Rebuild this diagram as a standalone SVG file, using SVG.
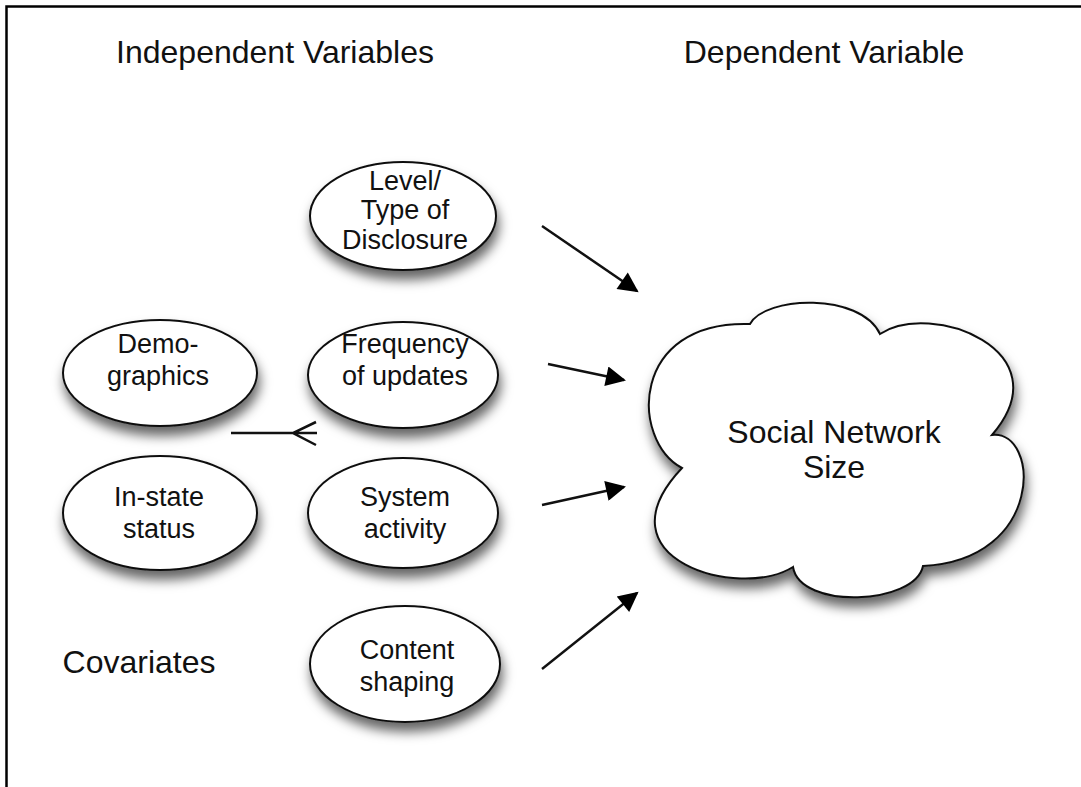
<svg xmlns="http://www.w3.org/2000/svg" width="1081" height="787" viewBox="0 0 1081 787">
  <defs>
    <filter id="shadow" x="-30%" y="-30%" width="160%" height="180%">
      <feDropShadow dx="2" dy="9" stdDeviation="6" flood-color="#000" flood-opacity="0.6"/>
    </filter>
    <marker id="arrow" viewBox="0 0 10 10" refX="9" refY="5" markerWidth="9" markerHeight="8" markerUnits="strokeWidth" orient="auto">
      <path d="M0,0 L10,5 L0,10 z" fill="#000"/>
    </marker>
  </defs>
  <style>
    text { font-family: "Liberation Sans", Arial, sans-serif; fill: #111; text-anchor: middle; }
    .title { font-size: 32px; }
    .label { font-size: 27px; }
    .big { font-size: 32px; }
    .node { fill: #fff; stroke: #111; stroke-width: 2; filter: url(#shadow); }
    .edge { stroke: #111; stroke-width: 2.5; fill: none; }
    .frame { stroke: #000; stroke-width: 2.5; fill: none; }
  </style>

  <rect width="1081" height="787" fill="#fff"/>
  <path class="frame" d="M6.5,787 V6.5 H1081"/>

  <!-- headings -->
  <text class="title" x="275" y="63">Independent Variables</text>
  <text class="title" x="824" y="63">Dependent Variable</text>
  <text class="big" x="139" y="673">Covariates</text>

  <!-- independent variables -->
  <g id="disclosure">
    <ellipse class="node" cx="403" cy="216" rx="93" ry="54"/>
    <text class="label" x="405" y="190">Level/</text>
    <text class="label" x="405" y="219">Type of</text>
    <text class="label" x="405" y="249">Disclosure</text>
  </g>
  <g id="frequency">
    <ellipse class="node" cx="403" cy="375" rx="95" ry="53"/>
    <text class="label" x="405" y="353">Frequency</text>
    <text class="label" x="405" y="385">of updates</text>
  </g>
  <g id="activity">
    <ellipse class="node" cx="403" cy="513" rx="95" ry="55"/>
    <text class="label" x="405" y="506">System</text>
    <text class="label" x="405" y="538">activity</text>
  </g>
  <g id="shaping">
    <ellipse class="node" cx="405" cy="664" rx="95" ry="58"/>
    <text class="label" x="407" y="659">Content</text>
    <text class="label" x="407" y="691">shaping</text>
  </g>

  <!-- covariates -->
  <g id="demographics">
    <ellipse class="node" cx="160" cy="373" rx="97" ry="53"/>
    <text class="label" x="158" y="353">Demo-</text>
    <text class="label" x="158" y="385">graphics</text>
  </g>
  <g id="instate">
    <ellipse class="node" cx="160" cy="513" rx="97" ry="57"/>
    <text class="label" x="159" y="506">In-state</text>
    <text class="label" x="159" y="538">status</text>
  </g>

  <!-- dependent variable -->
  <g id="network-size">
    <path class="node" d="M750,324 C765,296 860,292 880,334 C930,300 1065,350 992,435 C1040,430 1045,560 923,566 C915,605 800,610 793,567 C740,600 595,560 682,468 C630,440 630,320 750,324 Z"/>
    <text class="big" x="834" y="443">Social Network</text>
    <text class="big" x="834" y="478">Size</text>
  </g>

  <!-- connectors -->
  <g id="connectors">
    <line class="edge" x1="542" y1="226" x2="637" y2="291" marker-end="url(#arrow)"/>
    <line class="edge" x1="548" y1="364" x2="624" y2="380" marker-end="url(#arrow)"/>
    <line class="edge" x1="542" y1="505" x2="624" y2="487" marker-end="url(#arrow)"/>
    <line class="edge" x1="542" y1="669" x2="637" y2="593" marker-end="url(#arrow)"/>
    <path class="edge" stroke-width="2" d="M231,433 H317 M316,422 L293,433 L316,445"/>
  </g>
</svg>
